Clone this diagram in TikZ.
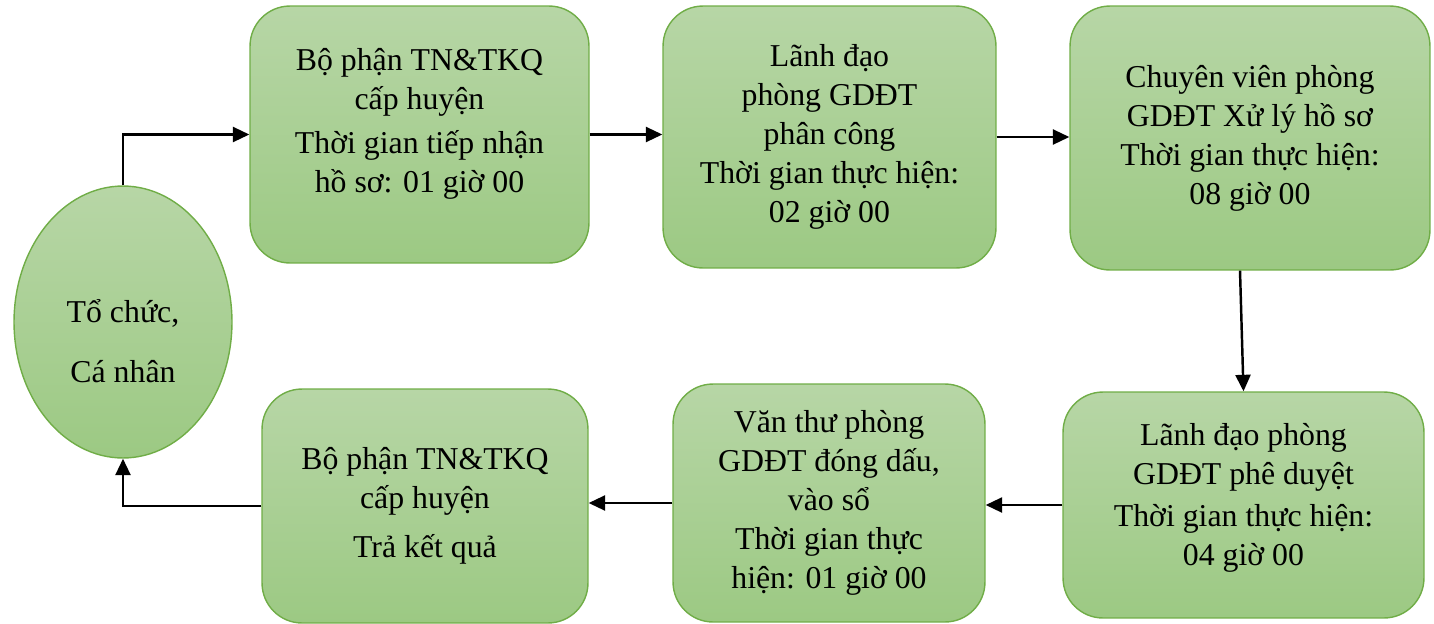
\documentclass[tikz,border=0pt]{standalone}
\usepackage{fontspec}
\setmainfont{Liberation Serif}
\usetikzlibrary{arrows.meta,shapes.geometric}
\definecolor{xanhnhat}{RGB}{183,214,166}
\definecolor{xanhdam}{RGB}{156,201,131}
\definecolor{vien}{RGB}{112,173,71}
\begin{document}
\begin{tikzpicture}[x=0.02cm,y=-0.02cm,>={Triangle[length=3.3mm,width=3mm]},
 hop/.style={draw=vien,line width=0.8pt,top color=xanhnhat,bottom color=xanhdam,
 rounded corners=0.8cm,align=center,inner sep=0pt,
 font=\fontsize{18.1}{22.2}\selectfont},
 muiten/.style={->,line width=1.4pt}]
 \useasboundingbox (0,0) rectangle (1434,623);
 %hàng trên
 \path
 (123,322) node[hop,ellipse,minimum width=4.36cm,minimum height=5.44cm] (tcn) {\mbox{}\\[13pt]Tổ chức,\\[12pt]Cá nhân}
 (419.5,134.5) node[hop,minimum width=6.78cm,minimum height=5.14cm] (tn) {Bộ phận TN\&TKQ\\cấp huyện\\[3pt]Thời gian tiếp nhận\\hồ sơ: 01 giờ 00\\[-6pt]\mbox{}}
 (829.5,137) node[hop,minimum width=6.66cm,minimum height=5.24cm] (ldpc) {Lãnh đạo\\phòng GDĐT\\phân công\\Thời gian thực hiện:\\02 giờ 00}
 (1250,138) node[hop,minimum width=7.2cm,minimum height=5.28cm] (cv) {Chuyên viên phòng\\GDĐT Xử lý hồ sơ\\Thời gian thực hiện:\\08 giờ 00};
 %hàng dưới
 \path
 (1243.5,505) node[hop,minimum width=7.22cm,minimum height=4.52cm] (ldpd) {Lãnh đạo phòng\\GDĐT phê duyệt\\[2pt]Thời gian thực hiện:\\04 giờ 00\\[-10pt]\mbox{}}
 (829,503) node[hop,minimum width=6.24cm,minimum height=4.76cm] (vt) {Văn thư phòng\\GDĐT đóng dấu,\\vào sổ\\Thời gian thực\\hiện: 01 giờ 00}
 (425,506) node[hop,minimum width=6.52cm,minimum height=4.68cm] (tkq) {Bộ phận TN\&TKQ\\cấp huyện\\[6pt]Trả kết quả};
 \draw[muiten] (tcn.north) |- (tn.west);
 \draw[muiten] (tn.east) -- (tn.east -| ldpc.west);
 \draw[muiten] (ldpc.east) -- (ldpc.east -| cv.west);
 \draw[muiten] ([xshift=-0.2cm]cv.south) -- (ldpd.north);
 \draw[muiten] (ldpd.west) -- (ldpd.west -| vt.east);
 \draw[muiten] (vt.west) -- (vt.west -| tkq.east);
 \draw[muiten] (tkq.west) -| (tcn.south);
\end{tikzpicture}
\end{document}
